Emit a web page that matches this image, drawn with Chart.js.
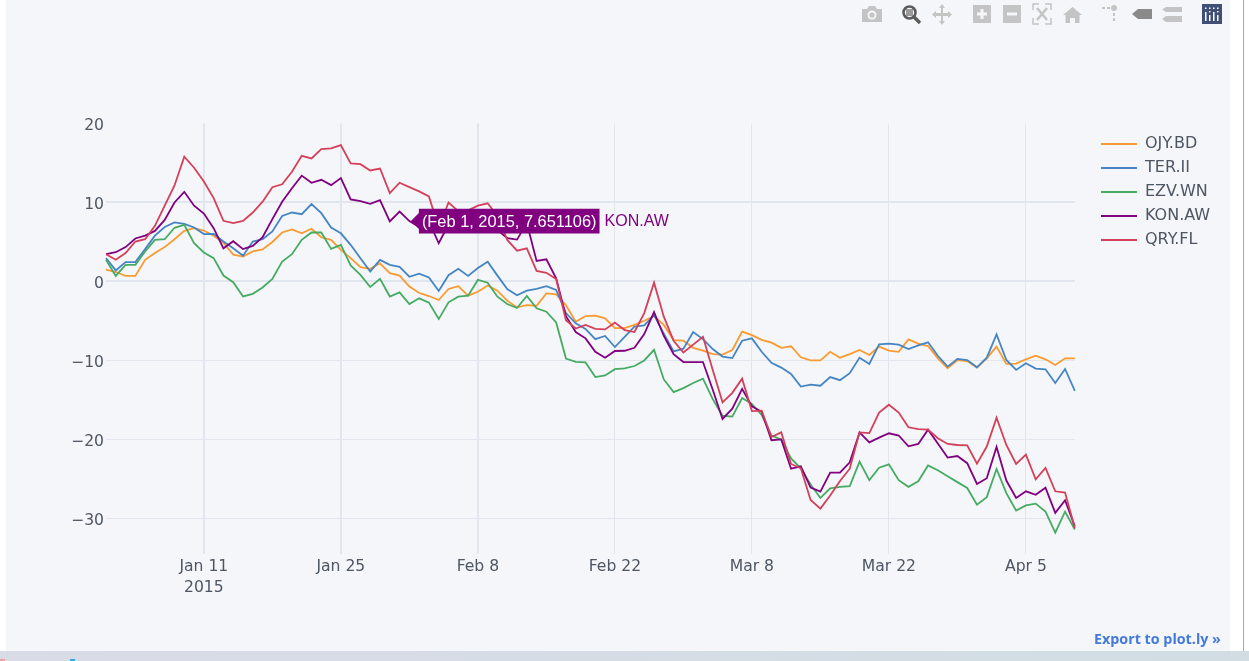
<!DOCTYPE html>
<html>
<head>
<meta charset="utf-8">
<script src="https://cdn.jsdelivr.net/npm/chart.js@4"></script>
<style>
  html, body { margin: 0; padding: 0; width: 1249px; height: 661px; overflow: hidden; background: #fff; }
  #panel { position: absolute; left: 6px; top: 0; width: 1224px; height: 651px; background: #f5f6f9; }
  #chart { position: absolute; left: 0; top: 0; }
  #scrollline { position: absolute; left: 1243px; top: 0; width: 1px; height: 651px; background: #a8a8a8; }
  #strip { position: absolute; left: 0; top: 651px; width: 1249px; height: 10px; background: linear-gradient(90deg, #d9dbe6, #d1dde3); }
  #strip i { position: absolute; display: block; }
  #export { position: absolute; left: 1094px; top: 629px; font: bold 14.3px "Open Sans", sans-serif; color: #447adb; white-space: nowrap; }
  #modebar { position: absolute; left: 0; top: 0; }
</style>
</head>
<body>
<div id="panel"><canvas id="chart" width="1224" height="651"></canvas></div>
<div id="scrollline"></div>
<div id="strip">
  <i style="left:0;top:8px;width:5px;height:2px;background:#f0a0a8"></i>
  <i style="left:70px;top:8px;width:5px;height:2px;background:#3aa8e8"></i>
</div>
<div id="export">Export to plot.ly »</div>
<svg id="modebar" width="1249" height="30" fill="#c4c4c4">
  <!-- camera -->
  <path d="M862 9h5l2-3h6l2 3h5v13h-20z"/><circle cx="872" cy="15" r="4.5" fill="#f5f6f9"/><circle cx="872" cy="15" r="2.6"/>
  <!-- zoom, active -->
  <rect x="906" y="9" width="7" height="7" fill="#9a9a9a"/>
  <g stroke="#5a5a5a" fill="none"><circle cx="909.5" cy="12.5" r="6" stroke-width="2.6"/><path d="M914 17l6 6" stroke-width="3.4"/></g>
  <!-- pan -->
  <path d="M942 4l3 4h-2v5h5v-2l4 3.500-4 3.500v-2h-5v5h2l-3 4-3-4h2v-5h-5v2l-4-3.500 4-3.500v2h5v-5h-2z"/>
  <!-- zoom in / out -->
  <path d="M973 5h18v18h-18z"/><path d="M980.500 9h3v3.500h3.500v3h-3.500v3.500h-3v-3.500h-3.500v-3h3.500z" fill="#f5f6f9"/>
  <path d="M1003 5h18v18h-18z"/><path d="M1007 12.500h10v3h-10z" fill="#f5f6f9"/>
  <!-- autoscale -->
  <g fill="none" stroke="#c4c4c4" stroke-width="1.500"><path d="M1033 10v-6h6M1045 4h6v6M1051 18v6h-6M1039 24h-6v-6"/><path d="M1037 8l10 12M1047 8l-10 12" stroke-width="2.500"/></g>
  <!-- home -->
  <path d="M1072.500 7l9.500 8h-2.500v8h-4.500v-5h-5v5h-4.500v-8h-2.500z"/>
  <!-- spikelines -->
  <circle cx="1114" cy="8" r="3"/><path d="M1102 7h3v2h-3zM1107 7h3v2h-3zM1113 13h2v3h-2zM1113 18h2v3h-2z"/>
  <!-- closest / compare -->
  <path d="M1132 14l6-5h14v10h-14z" fill="#8a8a8a"/>
  <path d="M1166 7h16v5h-16l-4-2.500zM1166 16h16v6h-16l-4-3z"/>
  <!-- logo -->
  <rect x="1202" y="4" width="20" height="20" fill="#3f4f75"/>
  <path d="M1205 12h1.500v9h-1.500zM1209 15h1.500v6h-1.500zM1213 12h1.500v9h-1.500zM1217 15h1.500v6h-1.500z" fill="#fff"/>
  <path d="M1205 7.500h1.500v1.500h-1.500zM1209 7.500h1.500v1.500h-1.500zM1213 7.500h1.500v1.500h-1.500zM1217 7.500h1.500v1.500h-1.500zM1209 11h1.500v1.500h-1.500zM1217 11h1.500v1.500h-1.500z" fill="#fff"/>
</svg>
<script>
// Daily index, first point is Jan 1 2015
const days = [];
for (let d = 0; d < 100; d++) {
  days.push(new Date(Date.UTC(2015, 0, 1 + d)).toISOString().slice(0, 10));
}
const xTickDays = [10, 24, 38, 52, 66, 80, 94];
const xTickLabels = [["Jan 11", "2015"], "Jan 25", "Feb 8", "Feb 22", "Mar 8", "Mar 22", "Apr 5"];
const yTickValues = [-30, -20, -10, 0, 10, 20];

const seriesNames = ["OJY.BD", "TER.II", "EZV.WN", "KON.AW", "QRY.FL"];
const seriesColors = ["#fa9a30", "#4585c4", "#46ab62", "#800080", "#d4405a"];

const ojy = [1.5, 1.2, 0.7, 0.7, 2.74, 3.6, 4.35, 5.35, 6.4, 6.75, 6.45, 5.8, 4.9, 3.4, 3.16, 3.8, 4.05, 5, 6.2, 6.6, 6.1, 6.67, 5.6, 5.27, 4, 2.95, 1.8, 1.6, 2.3, 1.05,
  0.74, -0.65, -1.46, -1.84, -2.35, -0.95, -0.6, -1.8, -1.3, -0.5, -1.16, -2.43, -3.28, -3, -3.07, -1.5, -1.63, -3, -5.1, -4.38, -4.33, -4.67, -5.9, -5.9, -5.5, -4.97, -4.38, -5.5, -7.42, -7.5,
  -8.4, -8.75, -9.2, -9.26, -8.67, -6.35, -6.8, -7.4, -7.74, -8.4, -8.2, -9.6, -10, -10, -8.9, -9.65, -9.2, -8.67, -9.3,
  -8.25, -8.76, -8.9, -7.33, -7.87, -8.17, -9.73, -11, -9.94, -10.07, -10.9, -9.73, -8.25, -10.44, -10.4, -9.85, -9.4, -9.85, -10.57, -9.73, -9.73];
const ter = [2.95, 1.4, 2.45, 2.45, 4.1, 5.8, 6.9, 7.47, 7.3, 6.83, 6, 6.03, 5.06, 4.2, 3.25, 5.06, 5.35, 6.33, 8.3, 8.73, 8.52, 9.8, 8.65, 6.83, 6.1, 4.64, 2.95, 1.27, 2.74, 2.1,
  1.84, 0.6, 1, 0.5, -1.2, 0.8, 1.6, 0.7, 1.7, 2.5, 0.74, -0.95, -1.75, -1.16, -0.95, -0.6, -1.08, -4, -5.3, -6, -7.3, -6.9, -8.3, -7, -5.7, -5.56, -4.25, -6.6, -8.86, -8.5,
  -6.4, -7.3, -8.55, -9.5, -9.7, -7.5, -7.2, -8.9, -10.3, -10.9, -11.7, -13.3, -13.06, -13.2, -12.1, -12.5, -11.6, -9.64, -10.44,
  -7.96, -7.87, -8, -8.55, -8.08, -7.7, -9.4, -10.78, -9.8, -9.94, -10.87, -9.64, -6.7, -9.94, -11.2, -10.36, -11.03, -11.12, -12.85, -11.08, -13.86];
const ezv = [2.74, 0.7, 2.1, 2.1, 3.8, 5.27, 5.35, 6.8, 7.17, 4.85, 3.67, 2.95, 0.75, -0.1, -1.9, -1.56, -0.76, 0.33, 2.53, 3.46, 5.27, 6.2, 6.2, 4.13, 4.64, 2.03, 0.84, -0.7, 0.33, -1.9,
  -1.37, -2.85, -2.13, -2.68, -4.76, -2.64, -1.92, -1.8, 0.2, -0.15, -1.92, -2.85, -3.36, -1.84, -3.4, -3.83, -5.18, -9.75, -10.17, -10.25, -12.1, -11.9, -11.1, -11, -10.7, -10, -8.65, -12.4, -14, -13.5,
  -12.85, -12.3, -14.9, -17, -17.1, -14.75, -15.5, -16.9, -19.5, -20, -22.4, -23.65, -25.7, -27.4, -26.2, -26, -25.9, -22.8, -25.15,
  -23.57, -23.15, -25.15, -26, -25.3, -23.3, -23.9, -24.66, -25.4, -26.14, -28.25, -27.3, -23.74, -26.8, -29, -28.34, -28.12, -29.14, -31.8, -29.14, -31.4];
const kon = [3.45, 3.7, 4.35, 5.44, 5.8, 6.4, 7.8, 10, 11.35, 9.6, 8.6, 6.75, 4.2, 5.1, 4.1, 4.5, 5.6, 7.9, 10.1, 11.8, 13.4, 12.5, 12.87, 12.2, 13.1, 10.4, 10.17, 9.83, 10.3, 7.6,
  8.85, 7.651106, 6.9, 7.6, 4.84, 7.2, 7.6, 7.9, 7.6, 7.3, 6.5, 5.5, 5.3, 7.4, 2.6, 2.8, 0.4, -4.4, -6.4, -7.2, -8.9, -9.65, -8.8, -8.77, -8.4, -6.66, -3.87, -6.9, -9.2, -10.2,
  -10.2, -10.2, -13.7, -17.4, -16.1, -13.6, -15.8, -16.5, -20.1, -20, -23.7, -23.4, -26.1, -26.6, -24.2, -24.2, -22.9, -19.1, -20.36,
  -19.77, -19.22, -19.5, -20.87, -20.57, -18.76, -20.5, -22.3, -22.1, -23, -25.63, -24.9, -20.95, -25.2, -27.4, -26.56, -27, -26.1, -29.3, -27.7, -31];
const qry = [3.45, 2.75, 3.6, 5.06, 5.35, 7.05, 9.6, 12.15, 15.8, 14.4, 12.65, 10.55, 7.68, 7.38, 7.68, 8.73, 10.1, 11.94, 12.3, 13.9, 15.9, 15.57, 16.75, 16.84, 17.26, 14.94, 14.85, 14.05, 14.3, 11.2,
  12.5, 11.95, 11.4, 10.76, 6.8, 10, 8.9, 9, 9.6, 9.9, 8.3, 5.26, 3.9, 4.2, 1.33, 1.1, 0.3, -4.9, -5.95, -5.5, -6, -6.07, -5.2, -6.15, -6.4, -4, -0.15, -4.45, -7.5, -9,
  -8, -7, -11.2, -15.3, -14.1, -12.3, -16.4, -16.35, -19.7, -19.1, -23.1, -23.65, -27.65, -28.75, -27.1, -25.25, -23.7, -19.1, -19.2,
  -16.6, -15.6, -16.6, -18.46, -18.7, -18.76, -19.85, -20.57, -20.7, -20.74, -23.06, -20.9, -17.24, -20.7, -23.1, -21.92, -25.05, -23.6, -26.56, -26.73, -31.25];

const seriesValues = [ojy, ter, ezv, kon, qry];

const axisFont = { family: "'DejaVu Sans', sans-serif", size: 15.6, lineHeight: 1.35 };
const legendFont = { family: "'DejaVu Sans', sans-serif", size: 16 };
const axisColor = "#4d5663";
const gridColor = "#e1e5ed";

// Name next to the hover box, plotly puts it outside
const hoverName = {
  id: "hoverName",
  afterLayout(chart) {
    chart.legend.left = 1087;
    chart.legend.right = 1224;
    chart.legend.top = 128;
    chart.legend.bottom = 300;
  },
  afterDraw(chart) {
    const tip = chart.tooltip;
    if (!tip || !tip.opacity) return;
    const ctx = chart.ctx;
    ctx.save();
    ctx.font = "16px 'Liberation Sans', sans-serif";
    ctx.fillStyle = seriesColors[3];
    ctx.textBaseline = "middle";
    ctx.fillText(seriesNames[3], tip.x + tip.width + 5, tip.y + tip.height / 2 + 0.5);
    ctx.restore();
  },
};

const chart = new Chart(document.getElementById("chart"), {
  type: "line",
  data: {
    labels: days,
    datasets: seriesNames.map((name, i) => ({
      label: name,
      data: seriesValues[i],
      borderColor: seriesColors[i],
      backgroundColor: seriesColors[i],
      borderWidth: 1.8,
      pointRadius: 0,
      pointHoverRadius: 0,
      tension: 0,
      order: seriesNames.length - i,
    })),
  },
  options: {
    responsive: false,
    animation: false,
    events: [],
    layout: { padding: { left: 0, top: 123.5, right: 28, bottom: 0 } },
    scales: {
      x: {
        type: "category",
        offset: false,
        afterBuildTicks: (scale) => {
          scale.ticks = xTickDays.map((d) => ({ value: d }));
        },
        afterFit: (scale) => {
          scale.height = 97;
        },
        border: { display: false },
        grid: {
          color: gridColor,
          drawTicks: false,
          lineWidth: (ctx) => (ctx.index < 3 ? 2 : 1),
        },
        ticks: {
          autoSkip: false,
          maxRotation: 0,
          padding: 2,
          color: axisColor,
          font: axisFont,
          callback: (value, index) => xTickLabels[index],
        },
      },
      y: {
        min: -34.5,
        max: 20,
        afterBuildTicks: (scale) => {
          scale.ticks = yTickValues.map((v) => ({ value: v }));
        },
        afterFit: (scale) => {
          scale.width = 100;
        },
        border: { display: false },
        grid: {
          color: (ctx) => (ctx.tick.value === 20 ? "transparent" : gridColor),
          drawTicks: false,
          lineWidth: (ctx) => (ctx.tick.value === 0 || ctx.tick.value === 10 ? 2 : 1),
        },
        ticks: {
          padding: 2,
          labelOffset: 2,
          color: axisColor,
          font: axisFont,
          callback: (value) => String(value).replace("-", "\u2212"),
        },
      },
    },
    plugins: {
      legend: {
        position: "right",
        align: "start",
        labels: {
          usePointStyle: true,
          pointStyle: "line",
          pointStyleWidth: 36,
          color: axisColor,
          font: legendFont,
          padding: 8,
          sort: (a, b) => a.datasetIndex - b.datasetIndex,
        },
      },
      tooltip: {
        backgroundColor: "#800080",
        bodyColor: "#fff",
        bodyFont: { family: "'Liberation Sans', sans-serif", size: 16.4 },
        displayColors: false,
        cornerRadius: 0,
        caretSize: 8,
        caretPadding: 1.5,
        xAlign: "left",
        yAlign: "center",
        padding: { left: 3, right: 3, top: 4, bottom: 1 },
        callbacks: {
          title: () => "",
          label: (item) => "(Feb 1, 2015, " + item.parsed.y + ")",
        },
      },
    },
  },
  plugins: [hoverName],
});

chart.tooltip.setActiveElements([{ datasetIndex: 3, index: 31 }], { x: 0, y: 0 });
chart.update();
</script>
</body>
</html>
